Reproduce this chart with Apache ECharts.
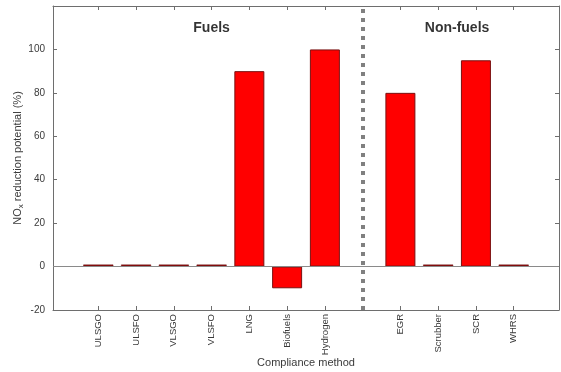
<!DOCTYPE html>
<html>
<head>
<meta charset="utf-8">
<script src="https://cdn.jsdelivr.net/npm/echarts@6/dist/echarts.min.js"></script>
<style>html,body{margin:0;padding:0;background:#fff}#c{width:561px;height:372px}</style>
</head>
<body>
<div id="c"></div>
<script>
var categories = ['ULSGO','ULSFO','VLSGO','VLSFO','LNG','Biofuels','Hydrogen','EGR','Scrubber','SCR','WHRS'];
var positions = [1,2,3,4,5,6,7,9,10,11,12];
var values = [0,0,0,0,90,-10,100,80,0,95,0];
var yTicks = [-20,0,20,40,60,80,100];
var dividerAt = 8;
var groupLabels = [{text:'Fuels', x:4}, {text:'Non-fuels', x:10.5}];
var groupLabelY = 110;

var font = 'Liberation Sans, Arial, Helvetica, sans-serif';
var axisCol = '#6e6e6e';
var txtCol = '#3a3a3a';

var chart = echarts.init(document.getElementById('c'), null, {renderer:'canvas'});
var barData = positions.map(function(p,i){
  var d = {value:[p, values[i]]};
  if (values[i] === 0) d.itemStyle = {color:'#8b1010', borderColor:'#6a0a0a', borderWidth:0.5};
  return d;
});
var labelMap = {};
positions.forEach(function(p,i){ labelMap[p] = categories[i]; });

var xBase = {
  type:'value', min:-0.2, max:13.2,
  axisLine:{show:true, onZero:false, lineStyle:{color:axisCol, width:1}},
  splitLine:{show:false}
};
var yBase = {
  type:'value', min:-20, max:120, interval:20,
  axisLine:{show:true, onZero:false, lineStyle:{color:axisCol, width:1}},
  splitLine:{show:false}
};

chart.setOption({
  animation:false,
  grid:{left:53, right:2, top:6, bottom:62, containLabel:false, outerBoundsMode:'none'},
  xAxis:[
    Object.assign({}, xBase, {
      position:'bottom',
      name:'Compliance method', nameLocation:'middle', nameGap:47, nameMoveOverlap:false,
      nameTextStyle:{fontFamily:font, fontSize:11, color:txtCol},
      axisTick:{show:true, inside:true, length:4, customValues:positions, lineStyle:{color:axisCol}},
      axisLabel:{show:true, rotate:90, fontFamily:font, fontSize:9.5, color:txtCol, margin:4,
        customValues:positions, formatter:function(v){ return labelMap[Math.round(v)] || ''; }}
    }),
    Object.assign({}, xBase, {
      position:'top',
      axisTick:{show:true, inside:true, length:4, customValues:positions, lineStyle:{color:axisCol}},
      axisLabel:{show:false}
    })
  ],
  yAxis:[
    Object.assign({}, yBase, {
      position:'left',
      name:'{n|NO}{s|x}{n| reduction potential (%)}', nameLocation:'middle', nameGap:28, nameRotate:90, nameMoveOverlap:false,
      nameTextStyle:{rich:{
        n:{fontFamily:font, fontSize:11, color:txtCol},
        s:{fontFamily:font, fontSize:8, color:txtCol, verticalAlign:'bottom', padding:[6,0,0,0]}
      }},
      axisTick:{show:true, inside:true, length:4, customValues:yTicks, lineStyle:{color:axisCol}},
      axisLabel:{show:true, fontFamily:font, fontSize:10, color:txtCol, margin:8, customValues:yTicks}
    }),
    Object.assign({}, yBase, {
      position:'right',
      axisTick:{show:true, inside:true, length:4, customValues:yTicks, lineStyle:{color:axisCol}},
      axisLabel:{show:false}
    })
  ],
  series:[
    {
      type:'scatter', xAxisIndex:0, yAxisIndex:0, symbolSize:0, z:1,
      data:groupLabels.map(function(g){ return {value:[g.x, groupLabelY], name:g.text}; }),
      label:{show:true, position:'inside', formatter:function(p){ return p.name; },
        fontFamily:font, fontSize:14, fontWeight:'bold', color:'#000'},
      markLine:{
        silent:true, symbol:'none', label:{show:false},
        data:[
          {yAxis:0, lineStyle:{color:'#8a8a8a', width:1, type:'solid'}},
          {xAxis:dividerAt, lineStyle:{color:'#808080', width:4, type:[4,5]}}
        ]
      },
      silent:true
    },
    {
      type:'bar', xAxisIndex:0, yAxisIndex:0, z:3,
      data:barData, barWidth:30, barMinHeight:2,
      itemStyle:{color:'#ff0000', borderColor:'#7a1010', borderWidth:1}
    }
  ]
});
</script>
</body>
</html>
